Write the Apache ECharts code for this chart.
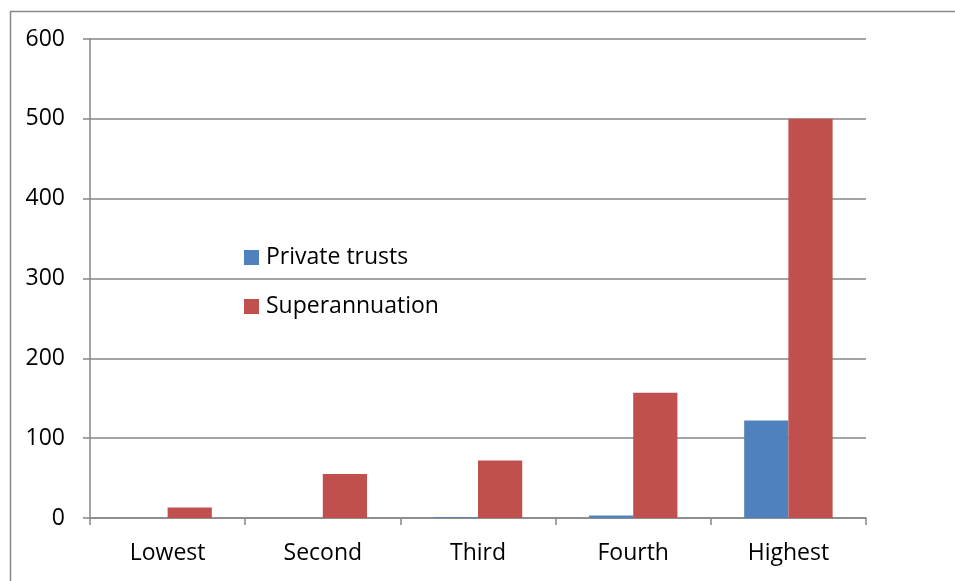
<!DOCTYPE html>
<html>
<head>
<meta charset="utf-8">
<script src="https://cdn.jsdelivr.net/npm/echarts@6/dist/echarts.min.js"></script>
<style>html,body{margin:0;padding:0;background:#fff;}#c{width:955px;height:581px;}</style>
</head>
<body>
<div id="c"></div>
<script>
const categories = ["Lowest", "Second", "Third", "Fourth", "Highest"];
const privateTrusts = [0, 0, 1, 3, 122];
const superannuation = [13, 55, 72, 157, 500];
const seriesNames = ["Private trusts", "Superannuation"];

const chart = echarts.init(document.getElementById('c'), null, {renderer: 'canvas'});
const font = 'Open Sans';
chart.setOption({
  animation: false,
  backgroundColor: '#fff',
  graphic: [{
    type: 'rect', left: 8, top: 9,
    shape: {width: 946, height: 620},
    style: {fill: 'none', stroke: '#888', lineWidth: 1.5},
    silent: true
  }],
  grid: {left: 90, right: 89, top: 39, bottom: 63},
  legend: {
    orient: 'vertical', left: 244, top: 246, padding: 0,
    itemWidth: 15, itemHeight: 15, itemGap: 26,
    icon: 'rect',
    textStyle: {fontFamily: font, fontSize: 23, lineHeight: 23, color: '#000', padding: [0,0,0,2]},
    data: seriesNames
  },
  xAxis: {
    type: 'category', data: categories,
    axisLine: {lineStyle: {color: '#868686', width: 1.5}},
    axisTick: {show: true, length: 7, lineStyle: {color: '#868686', width: 1.5}},
    axisLabel: {fontFamily: font, fontSize: 23, color: '#000', margin: 24}
  },
  yAxis: {
    type: 'value', min: 0, max: 600, interval: 100,
    axisLine: {show: true, lineStyle: {color: '#868686', width: 1.5}},
    axisTick: {show: true, length: 7, lineStyle: {color: '#868686', width: 1.5}},
    splitLine: {lineStyle: {color: '#868686', width: 1.5}},
    axisLabel: {fontFamily: font, fontSize: 23, color: '#000', margin: 25}
  },
  series: [
    {name: seriesNames[0], type: 'bar', data: privateTrusts, itemStyle: {color: '#4F81BD'}, barGap: '0%', barCategoryGap: '43%'},
    {name: seriesNames[1], type: 'bar', data: superannuation, itemStyle: {color: '#C0504D'}, barGap: '0%', barCategoryGap: '43%'}
  ]
});
</script>
</body>
</html>
